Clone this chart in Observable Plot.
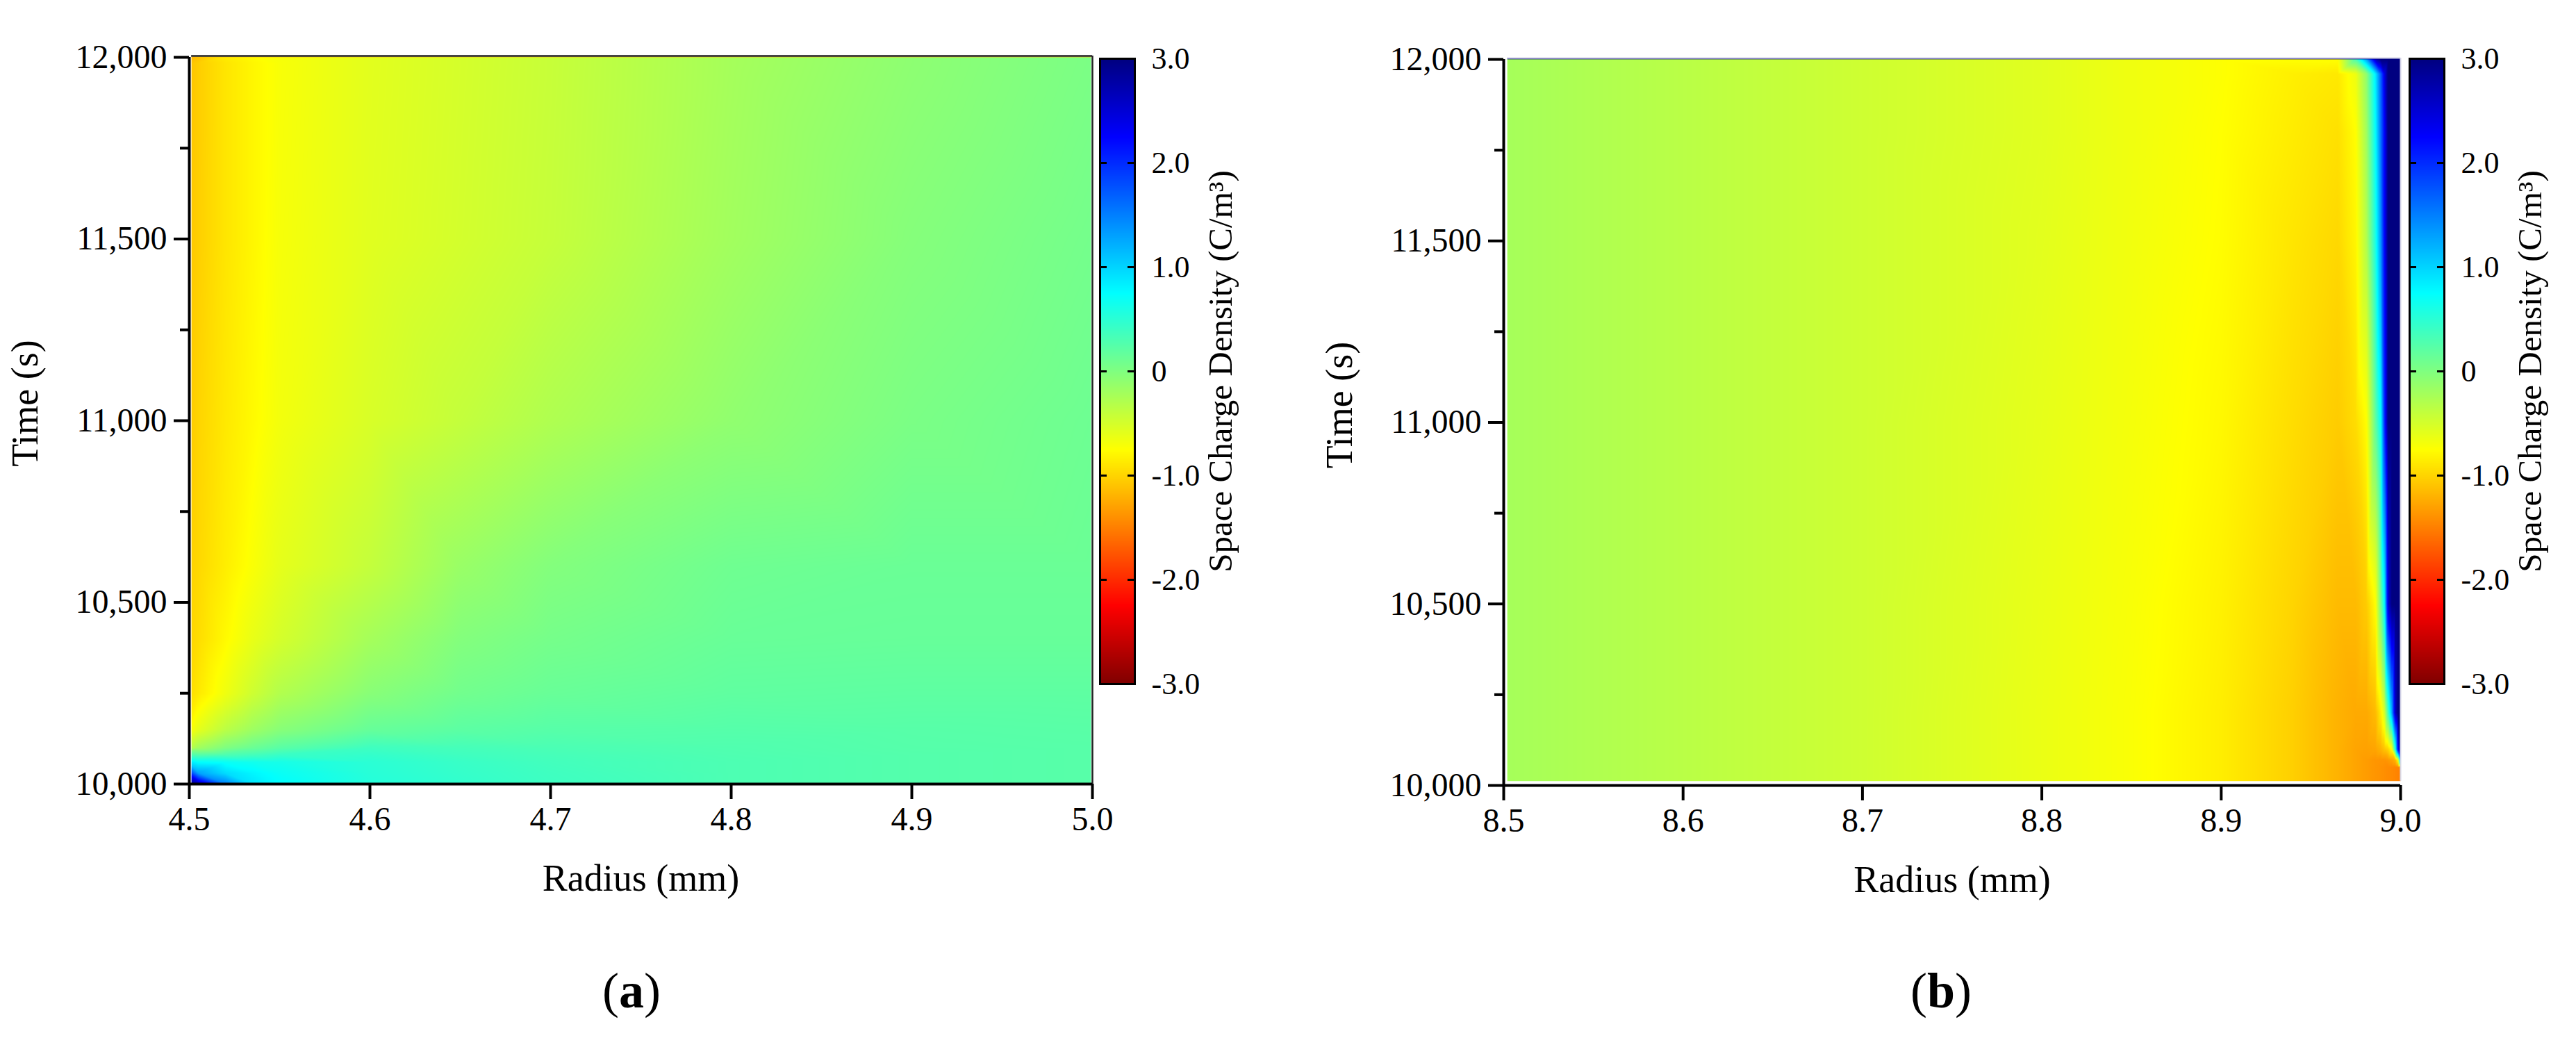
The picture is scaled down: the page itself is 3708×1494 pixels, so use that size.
<!DOCTYPE html>
<html>
<head>
<meta charset="utf-8">
<script src="https://cdn.jsdelivr.net/npm/d3@7"></script>
<script src="https://cdn.jsdelivr.net/npm/@observablehq/plot@0.6"></script>
<style>
html,body{margin:0;padding:0;background:#fff;}
#page{position:relative;width:3708px;height:1494px;overflow:hidden;font-family:"Liberation Serif",serif;}
#page svg{position:absolute;overflow:visible;background:transparent;}
.cap{position:absolute;font-size:72px;line-height:72px;transform:translateX(-50%);color:#000;}
</style>
</head>
<body>
<div id="page"></div>
<script>
const radiusTicksA = [4.5, 4.6, 4.7, 4.8, 4.9, 5.0];
const radiusTicksB = [8.5, 8.6, 8.7, 8.8, 8.9, 9.0];
const timeMajor = [10000, 10500, 11000, 11500, 12000];
const timeMinor = [10250, 10750, 11250, 11750];
const barTicks = [-3, -2, -1, 0, 1, 2, 3];
const barInnerTicks = [-2, -1, 0, 1, 2];

const jetStops = [-3, -2.25, -0.75, 0, 0.75, 2.25, 3];
const jetColors = ["#800000", "#ff0000", "#ffff00", "#80ff80", "#00ffff", "#0000ff", "#000080"];

const radiiA = [4.5, 4.505, 4.52, 4.535, 4.55, 4.6, 4.65, 4.7, 4.8, 4.9, 5.0];
const timesA = [12000, 11985, 11500, 11000, 10600, 10400, 10250, 10150, 10100, 10080, 10060, 10030, 10000];
const chargeA = [
  [-1.2, -1.12, -0.85, -0.76, -0.7, -0.58, -0.5, -0.42, -0.22, -0.08, 0.03],
  [-1.1, -1.04, -0.9, -0.8, -0.71, -0.58, -0.5, -0.42, -0.22, -0.08, 0.03],
  [-1.08, -1.03, -0.9, -0.8, -0.7, -0.57, -0.49, -0.41, -0.2, -0.03, 0.07],
  [-1.06, -1, -0.88, -0.78, -0.68, -0.52, -0.4, -0.28, -0.1, 0.03, 0.11],
  [-1.02, -0.98, -0.85, -0.72, -0.6, -0.4, -0.15, -0.02, 0.1, 0.13, 0.13],
  [-1, -0.95, -0.78, -0.62, -0.5, -0.22, -0.02, 0.06, 0.14, 0.15, 0.15],
  [-0.95, -0.88, -0.66, -0.46, -0.3, -0.05, 0.08, 0.14, 0.19, 0.2, 0.2],
  [-0.75, -0.6, -0.35, -0.18, -0.05, 0.15, 0.21, 0.24, 0.25, 0.24, 0.23],
  [-0.35, -0.2, 0, 0.12, 0.22, 0.38, 0.34, 0.31, 0.28, 0.25, 0.24],
  [0.3, 0.25, 0.3, 0.35, 0.42, 0.45, 0.38, 0.34, 0.29, 0.26, 0.24],
  [0.9, 0.75, 0.7, 0.65, 0.62, 0.5, 0.42, 0.36, 0.3, 0.26, 0.24],
  [2, 1.3, 0.95, 0.8, 0.7, 0.52, 0.44, 0.38, 0.3, 0.26, 0.24],
  [3, 2.7, 1.5, 0.9, 0.76, 0.54, 0.46, 0.39, 0.3, 0.26, 0.24]
];

const radiiB = [8.5, 8.6, 8.7, 8.8, 8.85, 8.9, 8.94, 8.965, 8.975, 8.981, 8.986, 8.989, 8.991, 8.993, 8.995, 8.997, 8.9985, 9.0];
const timesB = [12000, 11960, 11800, 11500, 11000, 10500, 10200, 10100, 10070, 10050, 10012];
const chargeB = [
  [-0.22, -0.34, -0.46, -0.57, -0.66, -0.74, -0.75, -0.75, 0.3, 1.3, 2.6, 3, 3, 3, 3, 3, 3, 3],
  [-0.22, -0.34, -0.46, -0.57, -0.66, -0.74, -0.84, -0.88, -0.65, -0.1, 0.85, 1.7, 2.4, 3, 3, 3, 3, 3],
  [-0.22, -0.34, -0.46, -0.57, -0.66, -0.75, -0.86, -0.93, -0.75, -0.2, 0.75, 1.6, 2.25, 3, 3, 3, 3, 3],
  [-0.22, -0.34, -0.46, -0.58, -0.67, -0.76, -0.9, -0.98, -0.8, -0.3, 0.6, 1.4, 2.25, 3, 3, 3, 3, 3],
  [-0.22, -0.34, -0.46, -0.6, -0.69, -0.79, -0.95, -1.05, -0.95, -0.75, 0.18, 0.75, 2, 3, 3, 3, 3, 3],
  [-0.22, -0.34, -0.46, -0.62, -0.71, -0.83, -1, -1.15, -1.15, -1.05, -0.75, 0.1, 0.75, 2.5, 3, 3, 3, 3],
  [-0.22, -0.34, -0.46, -0.63, -0.72, -0.85, -1.03, -1.2, -1.25, -1.25, -1.15, -0.85, -0.5, 0.35, 1.2, 2.6, 3, 3],
  [-0.22, -0.34, -0.46, -0.63, -0.72, -0.85, -1.03, -1.2, -1.28, -1.3, -1.28, -1.2, -1.1, -1, -0.75, 0.6, 2.25, 3],
  [-0.22, -0.34, -0.46, -0.63, -0.72, -0.85, -1.03, -1.2, -1.28, -1.33, -1.37, -1.38, -1.38, -1.35, -1.3, -1.2, -0.8, 1.5],
  [-0.22, -0.34, -0.46, -0.63, -0.72, -0.85, -1.03, -1.2, -1.28, -1.33, -1.37, -1.39, -1.41, -1.43, -1.44, -1.46, -1.48, -1.5],
  [-0.22, -0.34, -0.46, -0.63, -0.72, -0.85, -1.03, -1.2, -1.28, -1.33, -1.37, -1.39, -1.41, -1.43, -1.44, -1.46, -1.48, -1.5]
];

const colorScale = {type: "linear", domain: jetStops, range: jetColors, interpolate: "rgb", clamp: true};
const serif = "'Liberation Serif', 'Times New Roman', serif";
const page = document.getElementById("page");

function toPoints(radii, times, rows) {
  return times.flatMap((t, i) => radii.map((r, j) => ({r, t, v: rows[i][j]})));
}

function heatPanel({radii, times, rows, xDomain, xTicks, left, right, top, bottom, rasterX, rasterY, edgeTop, edgeColor, edgeFrom, edgeWidth}) {
  const W = right + 10;
  const H = 1330;
  const svg = Plot.plot({
    width: W,
    height: H,
    marginLeft: left,
    marginRight: W - right,
    marginTop: top,
    marginBottom: H - bottom,
    style: {fontFamily: serif, background: "transparent", color: "#000"},
    x: {domain: xDomain},
    y: {domain: [10000, 12000]},
    color: colorScale,
    marks: [
      Plot.raster(toPoints(radii, times, rows), {
        x: "r", y: "t", fill: "v", interpolate: "barycentric", pixelSize: 1,
        x1: rasterX[0], x2: rasterX[1], y1: rasterY[0], y2: rasterY[1]
      }),
      Plot.ruleY([edgeTop], {x1: rasterX[0], x2: xDomain[1], stroke: edgeColor, strokeWidth: edgeWidth}),
      Plot.ruleX([xDomain[1]], {y1: edgeFrom, y2: edgeTop, stroke: edgeColor, strokeWidth: edgeWidth}),
      Plot.axisY({ticks: timeMinor, tickFormat: () => "", tickSize: 13, strokeWidth: 4, label: null}),
      Plot.axisY({ticks: timeMajor, tickFormat: d3.format(","), tickSize: 22, tickPadding: 10, strokeWidth: 4, fontSize: 48, label: null}),
      Plot.axisX({ticks: xTicks, tickFormat: d3.format(".1f"), tickSize: 22, tickPadding: 10, strokeWidth: 4, fontSize: 48, label: null}),
      Plot.ruleX([xDomain[0]], {strokeWidth: 4, stroke: "#000"}),
      Plot.ruleY([10000], {strokeWidth: 4, stroke: "#000"}),
      Plot.text(["Radius (mm)"], {frameAnchor: "bottom", dy: 153, fontSize: 54, fill: "#000", fontFamily: serif}),
      Plot.text(["Time (s)"], {frameAnchor: "left", textAnchor: "middle", dx: -236, dy: -25, rotate: -90, fontSize: 54, fill: "#000", fontFamily: serif})
    ]
  });
  svg.style.left = "0px";
  svg.style.top = "0px";
  page.appendChild(svg);
}

function colorBar({left, right, top, bottom}) {
  const W = 260;
  const ml = 4;
  const svg = Plot.plot({
    width: W,
    height: bottom - top + 80,
    marginLeft: ml,
    marginRight: W - ml - (right - left),
    marginTop: 40,
    marginBottom: 40,
    style: {fontFamily: serif, background: "transparent", color: "#000"},
    x: {domain: [0, 1], axis: null},
    y: {domain: [-3, 3]},
    color: colorScale,
    marks: [
      Plot.raster({fill: (x, y) => y, x1: 0, x2: 1, y1: -3, y2: 3, pixelSize: 1}),
      Plot.ruleY(barInnerTicks, {x1: 0, x2: 0.2, stroke: "#000", strokeWidth: 3}),
      Plot.ruleY(barInnerTicks, {x1: 0.8, x2: 1, stroke: "#000", strokeWidth: 3}),
      Plot.frame({stroke: "#000", strokeWidth: 3}),
      Plot.axisY({anchor: "right", ticks: barTicks, tickSize: 0, tickPadding: 24, fontSize: 44, label: null,
        tickFormat: d => d === 0 ? "0" : d3.format(".1f")(d).replace("\u2212", "-")}),
      Plot.text(["Space Charge Density (C/m\u00b3)"], {frameAnchor: "right", textAnchor: "middle", dx: 124, rotate: -90, fontSize: 49, fill: "#000", fontFamily: serif})
    ]
  });
  svg.style.left = (left - ml) + "px";
  svg.style.top = (top - 40) + "px";
  page.appendChild(svg);
}

function caption(letter, x, y) {
  const d = document.createElement("div");
  d.className = "cap";
  d.style.left = x + "px";
  d.style.top = y + "px";
  d.append("(");
  const b = document.createElement("b");
  b.textContent = letter;
  d.append(b, ")");
  page.appendChild(d);
}

heatPanel({radii: radiiA, times: timesA, rows: chargeA, xDomain: [4.5, 5.0], xTicks: radiusTicksA,
  left: 272, right: 1572, top: 82, bottom: 1128, rasterX: [4.5012, 4.9992], rasterY: [10000, 12002], edgeTop: 12004, edgeColor: "#222", edgeFrom: 10000, edgeWidth: 2.5});
heatPanel({radii: radiiB, times: timesB, rows: chargeB, xDomain: [8.5, 9.0], xTicks: radiusTicksB,
  left: 2164, right: 3455, top: 85, bottom: 1130, rasterX: [8.502, 9.0], rasterY: [10012, 12004], edgeTop: 12004, edgeColor: "#d8d8e8", edgeFrom: 10012, edgeWidth: 2});
colorBar({left: 1583, right: 1633, top: 84, bottom: 984});
colorBar({left: 3468, right: 3518, top: 84, bottom: 984});
caption("a", 909, 1390);
caption("b", 2794, 1390);
</script>
</body>
</html>
